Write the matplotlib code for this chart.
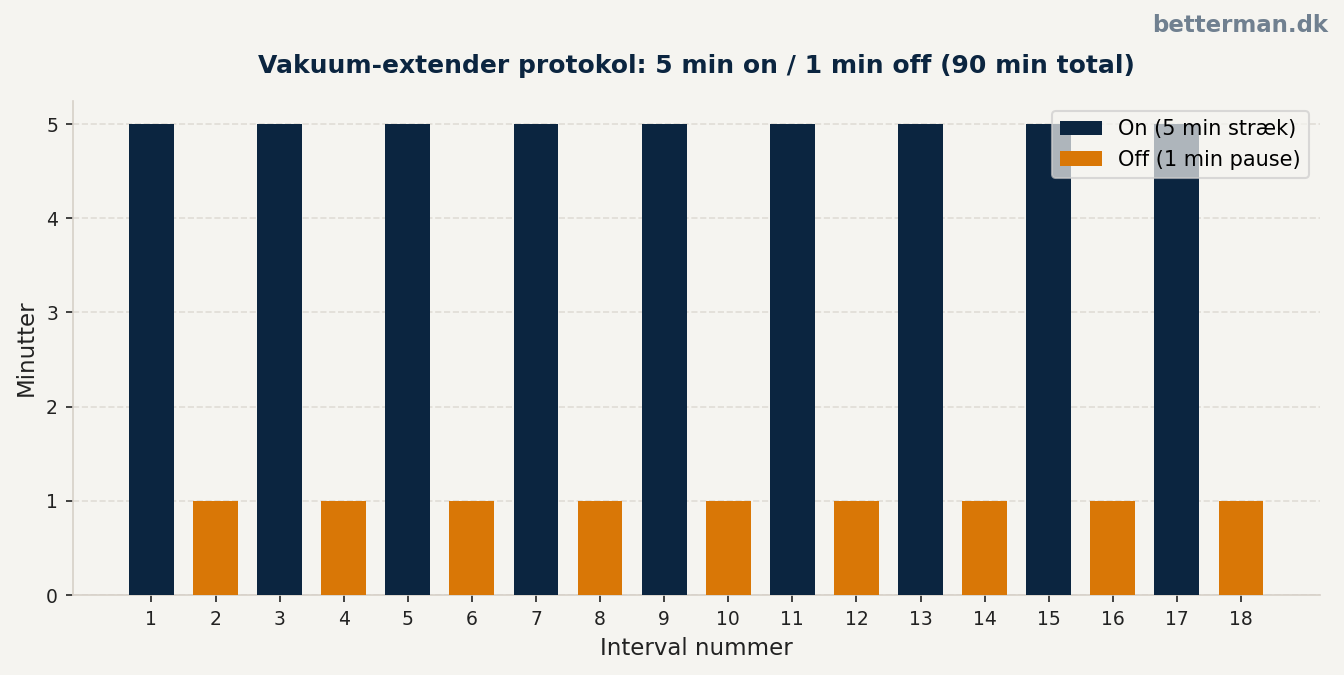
import numpy as np
import matplotlib
matplotlib.use("Agg")
from matplotlib import pyplot as plt

# data
intervals = list(range(1, 19))
on_minutes = [5, 5, 5, 5, 5, 5, 5, 5, 5]
off_minutes = [1, 1, 1, 1, 1, 1, 1, 1, 1]
on_idx = intervals[0::2]
off_idx = intervals[1::2]

bg = "#f5f4f0"
navy = "#0b2540"
orange = "#d97706"

fig, ax = plt.subplots(figsize=(8.96, 4.5), dpi=150)
fig.patch.set_facecolor(bg)
ax.set_facecolor(bg)

ax.bar(on_idx, on_minutes, width=0.7, color=navy, label="On (5 min stræk)", zorder=3)
ax.bar(off_idx, off_minutes, width=0.7, color=orange, label="Off (1 min pause)", zorder=3)

ax.set_xticks(intervals)
ax.set_xlim(-0.23, 19.23)
ax.set_ylim(0, 5.25)
ax.tick_params(labelsize=9, colors="#222222")
ax.set_xlabel("Interval nummer", fontsize=11, color="#222222")
ax.set_ylabel("Minutter", fontsize=11, color="#222222")
ax.set_title("Vakuum-extender protokol: 5 min on / 1 min off (90 min total)",
             fontsize=12, fontweight="bold", color=navy, pad=13)

for s in ["top", "right"]:
    ax.spines[s].set_visible(False)
for s in ["left", "bottom"]:
    ax.spines[s].set_color("#d6d0c8")
ax.yaxis.grid(True, linestyle="--", color="#e0ddd6", linewidth=0.8, zorder=0)
ax.set_axisbelow(True)

leg = ax.legend(loc="upper right", fontsize=10, framealpha=0.7, edgecolor="#cccccc",
                facecolor=bg)

fig.text(0.988, 0.979, "betterman.dk", ha="right", va="top", fontsize=11,
         fontweight="bold", color="#708090")

plt.subplots_adjust(left=0.054, right=0.982, top=0.851, bottom=0.1185)
plt.savefig("out.png", dpi=150, facecolor=bg)
